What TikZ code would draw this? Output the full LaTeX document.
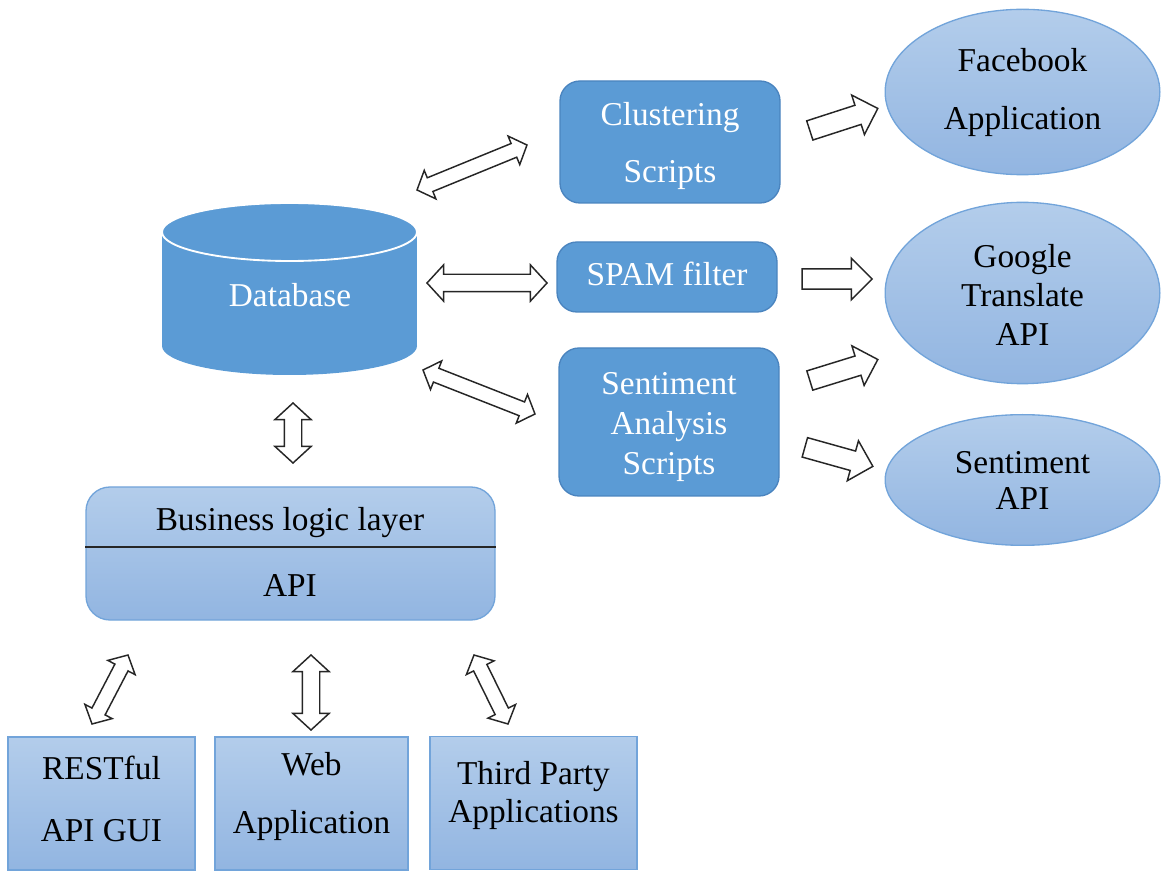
\documentclass[tikz,border=0pt]{standalone}
\usepackage{fontspec}
\setmainfont{Liberation Serif}
\usetikzlibrary{shapes.arrows,shapes.geometric,calc}
\definecolor{dblue}{HTML}{5B9BD5}
\definecolor{dborder}{HTML}{4A84BF}
\definecolor{ltop}{HTML}{B3CDEB}
\definecolor{lbot}{HTML}{92B5E1}
\definecolor{lborder}{HTML}{72A4DA}
\newcommand\dblarr[4][]{\path let \p1=($(#3)-(#2)$), \n1={atan2(\y1,\x1)}, \n2={veclen(\x1,\y1)} in node[dbla,#1,rotate=\n1,minimum height=\n2] (#4) at ($(#2)!0.5!(#3)$) {};}
\newcommand\sglarr[4][]{\path let \p1=($(#3)-(#2)$), \n1={atan2(\y1,\x1)}, \n2={veclen(\x1,\y1)} in node[sgla,#1,rotate=\n1,minimum height=\n2] (#4) at ($(#2)!0.5!(#3)$) {};}
\begin{document}
\begin{tikzpicture}[x=0.75pt,y=-0.75pt,
  ls/.style={font=\fontsize{25}{#1}\selectfont},
  every node/.style={ls=30, align=center},
  darkbox/.style={draw=dborder, line width=1pt, fill=dblue, rounded corners=15pt, inner sep=0pt},
  lightbox/.style={draw=lborder, line width=1pt, top color=ltop, bottom color=lbot, inner sep=0pt},
  lightell/.style={ellipse, draw=lborder, line width=1pt, top color=ltop, bottom color=lbot, inner sep=0pt},
  wtext/.style={text=white},
  dbla/.style={shape=double arrow, draw=black!85, fill=white, line width=1.1pt, inner xsep=0pt, inner ysep=6pt, double arrow head extend=7pt, double arrow tip angle=95, outer sep=0pt},
  sgla/.style={shape=single arrow, draw=black!85, fill=white, line width=1.1pt, inner xsep=0pt, inner ysep=7pt, single arrow head extend=8pt, single arrow tip angle=90, outer sep=0pt}]
\useasboundingbox (0,0) rectangle (1161,873);

% Database cylinder
\fill[dblue] (162,232) rectangle (417,346);
\fill[dblue] (289.5,346) ellipse [x radius=95.625pt, y radius=21.75pt];
\fill[dblue] (289.5,232) ellipse [x radius=95.625pt, y radius=21.75pt];
\draw[white, line width=1.4pt] (289.5,232) ellipse [x radius=95.625pt, y radius=21.75pt];
\node[wtext] (db) at (290,295) {Database};

% dark process boxes
\node[darkbox, minimum width=165pt, minimum height=91.5pt] (clu) at (670,142) {};
\node[wtext, ls=43] (clut) at (670,146) {Clustering\\Scripts};
\node[darkbox, minimum width=165pt, minimum height=52.5pt] (spam) at (667,277) {};
\node[wtext] (spamt) at (667,274) {SPAM filter};
\node[darkbox, minimum width=165pt, minimum height=111pt] (sent) at (669,422) {};
\node[wtext, ls=30] (sentt) at (669,427) {Sentiment\\Analysis\\Scripts};

% external services
\node[lightell, minimum width=206pt, minimum height=124pt] (fb) at (1022.5,92) {};
\node[ls=43.5] (fbt) at (1022.5,92) {Facebook\\Application};
\node[lightell, minimum width=206pt, minimum height=136pt] (gt) at (1022.5,293) {};
\node[ls=29] (gtt) at (1022.5,295) {Google\\Translate\\API};
\node[lightell, minimum width=206pt, minimum height=98pt] (sapi) at (1022.5,480) {};
\node[ls=27] (sapit) at (1022.5,480) {Sentiment\\API};

% business logic layer
\node[lightbox, rounded corners=18pt, minimum width=306.75pt, minimum height=99.75pt] (bll) at (290.5,553.5) {};
\draw[black!85, line width=1.2pt] (bll.west |- 0,547) -- (bll.east |- 0,547);
\node (bllt) at (290,523) {Business logic layer};
\node (api) at (290,585) {API};

% clients
\node[lightbox, minimum width=140.25pt, minimum height=99.75pt] (rest) at (101.5,803.5) {};
\node[ls=47] (restt) at (101.5,799) {RESTful\\API GUI};
\node[lightbox, minimum width=144.75pt, minimum height=99.75pt] (web) at (311.5,803.5) {};
\node[ls=43.5] (webt) at (311.5,796) {Web\\Application};
\node[lightbox, minimum width=155.25pt, minimum height=99.75pt] (third) at (533.5,803) {};
\node[ls=28.5] (thirdt) at (533.5,795) {Third Party\\Applications};

% arrow end points
\coordinate (a1) at (417,190); \coordinate (b1) at (527,145);
\coordinate (a2) at (427,283); \coordinate (b2) at (547,283);
\coordinate (a3) at (423,370); \coordinate (b3) at (535,414);
\coordinate (a4) at (293,403); \coordinate (b4) at (293,463);
\coordinate (a5) at (128,655); \coordinate (b5) at (92,724);
\coordinate (a6) at (311,655); \coordinate (b6) at (311,730);
\coordinate (a7) at (474,655); \coordinate (b7) at (508,724);
\coordinate (c1) at (805,132); \coordinate (d1) at (873,110);
\coordinate (c2) at (797,279); \coordinate (d2) at (867,279);
\coordinate (c3) at (805,382); \coordinate (d3) at (873,361);
\coordinate (c4) at (800,446); \coordinate (d4) at (868,465);

\dblarr[inner ysep=5pt, double arrow head extend=6pt]{a1}{b1}{ar1}
\dblarr{a2}{b2}{ar2}
\dblarr[inner ysep=5pt, double arrow head extend=6pt]{a3}{b3}{ar3}
\dblarr{a4}{b4}{ar4}
\dblarr[inner ysep=5pt, double arrow head extend=6pt]{a5}{b5}{ar5}
\dblarr{a6}{b6}{ar6}
\dblarr[inner ysep=5pt, double arrow head extend=6pt]{a7}{b7}{ar7}
\sglarr{c1}{d1}{sr1}
\sglarr{c2}{d2}{sr2}
\sglarr{c3}{d3}{sr3}
\sglarr{c4}{d4}{sr4}
\end{tikzpicture}
\end{document}
